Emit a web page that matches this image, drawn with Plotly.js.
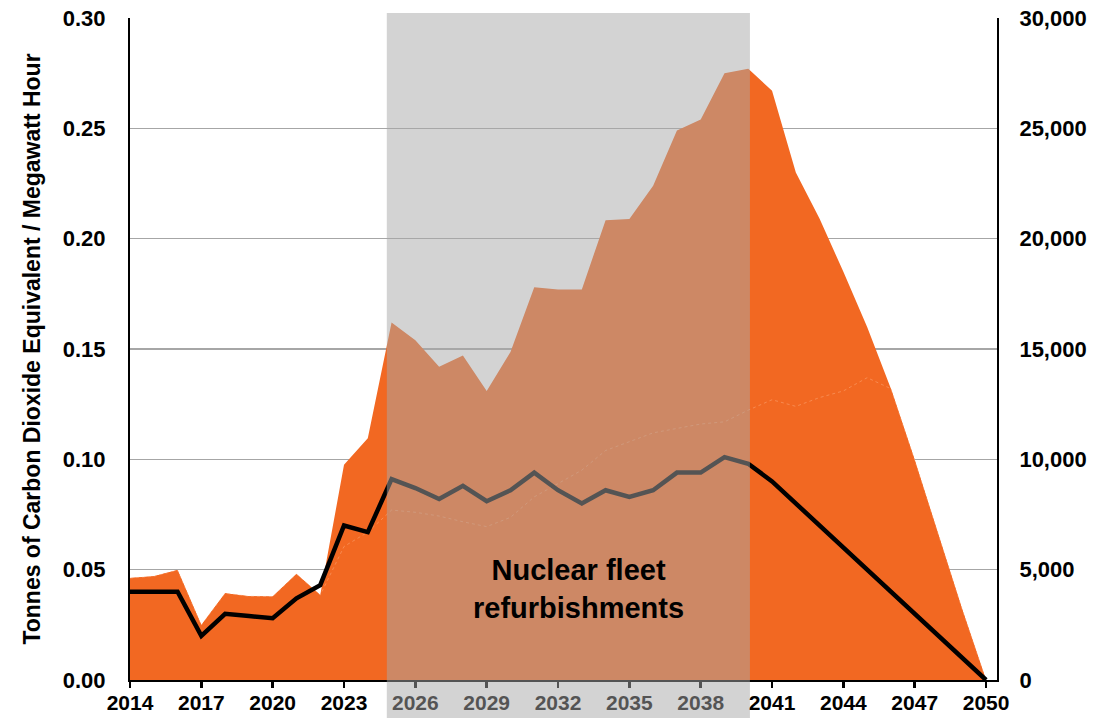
<!DOCTYPE html>
<html>
<head>
<meta charset="utf-8">
<script src="https://cdn.plot.ly/plotly-3.0.1.min.js"></script>
<style>
  html, body { margin: 0; padding: 0; background: #ffffff; }
  #chart { width: 1112px; height: 718px; }
</style>
</head>
<body>
<div id="chart"></div>
<script>
// ---- Data ----
const years = [2014,2015,2016,2017,2018,2019,2020,2021,2022,2023,2024,2025,2026,2027,2028,2029,2030,2031,2032,2033,2034,2035,2036,2037,2038,2039,2040,2041,2042,2043,2044,2045,2046,2047,2048,2049,2050];

// Total emissions area (right axis)
const emissionsTotal = [4620,4700,4980,2490,3930,3800,3780,4800,3850,9750,10950,16200,15400,14200,14700,13100,14860,17800,17700,17700,20840,20890,22400,24900,25400,27500,27700,26700,23000,20900,18500,16000,13200,9970,6570,3200,0];

// Lower stacked component of the area (right axis)
const emissionsBase = [4620,4700,4980,2490,3930,3800,3780,4800,3850,6050,6700,7700,7600,7430,7170,6950,7370,8300,8900,9510,10400,10800,11200,11400,11600,11700,12230,12700,12400,12800,13100,13700,13200,9970,6570,3200,0];

// Emission intensity line (left axis, tCO2e/MWh)
const intensity = [0.040,0.040,0.040,0.020,0.030,0.029,0.028,0.037,0.043,0.070,0.067,0.091,0.087,0.082,0.088,0.081,0.086,0.094,0.086,0.080,0.086,0.083,0.086,0.094,0.094,0.101,0.098,0.090,0.080,0.070,0.060,0.050,0.040,0.030,0.020,0.010,0.000];

const xTicks = [2014,2017,2020,2023,2026,2029,2032,2035,2038,2041,2044,2047,2050];
const leftTicks = [0,0.05,0.10,0.15,0.20,0.25,0.30];
const rightTicks = [0,5000,10000,15000,20000,25000,30000];

const refurbStart = 2024.8;
const refurbEnd = 2040.07;
const refurbLabel = "Nuclear fleet<br>refurbishments";
const yTitle = "Tonnes of Carbon Dioxide Equivalent / Megawatt Hour";

const FONT = "Liberation Sans, Arial, Helvetica, sans-serif";
const ORANGE = "#F26822";

// Areas use the base y axis (right side, tonnes); the intensity line uses the
// overlaying axis (left side) so that it is drawn above the areas.
const traces = [
  {
    x: years, y: emissionsTotal, xaxis: "x", yaxis: "y", type: "scatter", mode: "lines",
    fill: "tozeroy", fillcolor: ORANGE, line: {width: 0, color: ORANGE},
    hoverinfo: "skip", showlegend: false
  },
  {
    x: years, y: emissionsBase, xaxis: "x", yaxis: "y", type: "scatter", mode: "lines",
    fill: "tozeroy", fillcolor: ORANGE, line: {width: 0.8, color: "rgba(255,190,150,0.5)", dash: "dot"},
    hoverinfo: "skip", showlegend: false
  },
  {
    x: years, y: intensity, xaxis: "x", yaxis: "y2", type: "scatter", mode: "lines",
    line: {width: 4.5, color: "#000000"},
    hoverinfo: "skip", showlegend: false
  }
];

const tickFont = {family: FONT, size: 22, color: "#000000", weight: "bold"};

const layout = {
  width: 1112, height: 718,
  margin: {l: 130, r: 115, t: 18, b: 38},
  paper_bgcolor: "#ffffff", plot_bgcolor: "#ffffff",
  font: {family: FONT, color: "#000000"},
  showlegend: false,
  xaxis: {
    range: [2014, 2050.46],
    tickmode: "array", tickvals: xTicks, ticktext: xTicks.map(String),
    ticks: "outside", ticklen: 6, tickwidth: 2.5, tickcolor: "#000000",
    showline: true, linecolor: "#000000", linewidth: 2,
    showgrid: false, zeroline: false, ticklabelstandoff: -3,
    tickfont: {family: FONT, size: 21, color: "#000000", weight: "bold"}
  },
  yaxis: {
    range: [0, 30000], side: "right",
    tickmode: "array", tickvals: rightTicks, ticktext: rightTicks.map(v => v.toLocaleString("en-US")),
    ticks: "", showline: true, linecolor: "#000000", linewidth: 2,
    showgrid: true, gridcolor: "#A6A6A6", gridwidth: 1.3,
    zeroline: false, ticklabelstandoff: 16,
    tickfont: tickFont
  },
  yaxis2: {
    range: [0, 0.30], overlaying: "y", side: "left",
    tickmode: "array", tickvals: leftTicks, ticktext: leftTicks.map(v => v.toFixed(2)),
    ticks: "", showline: true, linecolor: "#000000", linewidth: 2,
    showgrid: false, zeroline: false, ticklabelstandoff: 18,
    tickfont: tickFont,
    title: {text: yTitle, font: {family: FONT, size: 23, color: "#000000", weight: "bold"}, standoff: 16}
  },
  shapes: [
    {
      type: "rect", layer: "above", xref: "x", yref: "paper",
      x0: refurbStart, x1: refurbEnd, y0: -0.06, y1: 1.0076,
      fillcolor: "rgba(167,167,167,0.5)", line: {width: 0}
    }
  ],
  annotations: [
    {
      x: 2032.84, y: 0.0412, xref: "x", yref: "y2",
      text: refurbLabel, showarrow: false,
      font: {family: FONT, size: 29, color: "#000000", weight: "bold"},
      align: "center"
    }
  ]
};

Plotly.newPlot("chart", traces, layout, {displayModeBar: false, staticPlot: true});
</script>
</body>
</html>
